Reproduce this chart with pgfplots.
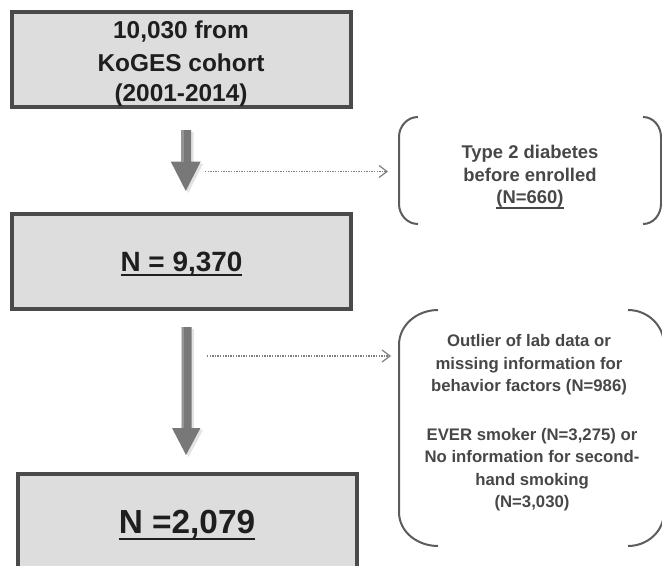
\documentclass[border=0pt]{standalone}
\usepackage{fontspec}
\setmainfont{Liberation Sans}
\usepackage{pgfplots}
\pgfplotsset{compat=1.18}
\usetikzlibrary{arrows.meta,shadows}
\definecolor{boxfill}{HTML}{DDDDDD}
\definecolor{boxline}{HTML}{4A4A4A}
\definecolor{arrowgray}{HTML}{787878}
\definecolor{arrowlight}{HTML}{959595}
\definecolor{dotgray}{HTML}{7E7E7E}
\definecolor{brk}{HTML}{5C5C5C}
\definecolor{brtext}{HTML}{474747}
\definecolor{maintext}{HTML}{1E1E1E}
\newcommand\ulx[3]{\setbox0=\hbox{#3}\rlap{\copy0}\rule[-#1]{\wd0}{#2}}
\begin{document}
\begin{tikzpicture}
\begin{axis}[scale only axis, width=662bp, height=566bp,
  xmin=0, xmax=662, ymin=0, ymax=566, y dir=reverse,
  axis lines=none, ticks=none, clip=false]
% boxes
\addplot[draw=boxline, fill=boxfill, line width=4bp] coordinates {(12,12) (350.5,12) (350.5,107.3) (12,107.3)} -- cycle;
\addplot[draw=boxline, fill=boxfill, line width=4bp] coordinates {(12,213.7) (350.5,213.7) (350.5,308.7) (12,308.7)} -- cycle;
\addplot[draw=boxline, fill=boxfill, line width=4bp] coordinates {(18,474.3) (357,474.3) (357,590) (18,590)} -- cycle;
% big arrows
\fill[arrowgray, drop shadow={shadow xshift=2.5bp, shadow yshift=-2bp, opacity=0.22}]
  (axis cs:181,130) -- (axis cs:191,130) -- (axis cs:191,161.5) -- (axis cs:200.7,161.5)
  -- (axis cs:185.8,191) -- (axis cs:170.7,161.5) -- (axis cs:181,161.5) -- cycle;
\fill[arrowlight] (axis cs:181,130) rectangle (axis cs:183.5,161.5);
\fill[arrowgray, drop shadow={shadow xshift=2.5bp, shadow yshift=-2bp, opacity=0.22}]
  (axis cs:181.5,327) -- (axis cs:191.5,327) -- (axis cs:191.5,428) -- (axis cs:200.5,428)
  -- (axis cs:186,455) -- (axis cs:172,428) -- (axis cs:181.5,428) -- cycle;
\fill[arrowlight] (axis cs:181.5,327) rectangle (axis cs:184,428);
% dotted arrows
\draw[dotgray, line width=1.5bp, dash pattern=on 1.4bp off 1.2bp, -{Straight Barb[length=8bp,width=12bp,line width=1.2bp]}]
  (axis cs:205,171.5) -- (axis cs:388,171.5);
\draw[dotgray, line width=1.5bp, dash pattern=on 1.4bp off 1.2bp, -{Straight Barb[length=8bp,width=12bp,line width=1.2bp]}]
  (axis cs:207,356) -- (axis cs:391,356);
% brackets
\draw[brk, line width=2bp] (axis cs:418,117) to[out=180,in=90] (axis cs:399,137) -- (axis cs:399,204) to[out=-90,in=180] (axis cs:418,224);
\draw[brk, line width=2bp] (axis cs:643,117) to[out=0,in=90] (axis cs:661,137) -- (axis cs:661,204) to[out=-90,in=0] (axis cs:643,224);
\draw[brk, line width=2bp] (axis cs:438,310) to[out=180,in=90] (axis cs:399,345) -- (axis cs:399,512) to[out=-90,in=180] (axis cs:438,546);
\draw[brk, line width=2bp] (axis cs:628,310) to[out=0,in=90] (axis cs:664,345) -- (axis cs:664,512) to[out=-90,in=0] (axis cs:628,546);
% main texts
\begin{scope}[every node/.style={anchor=base, inner sep=0pt, text=maintext}]
\node[font=\fontsize{24.5}{30}\selectfont\bfseries] at (axis cs:181,39) {10,030 from};
\node[font=\fontsize{24.5}{30}\selectfont\bfseries] at (axis cs:181,71.7) {KoGES cohort};
\node[font=\fontsize{24.5}{30}\selectfont\bfseries] at (axis cs:181,101.5) {(2001-2014)};
\node[font=\fontsize{28}{32}\selectfont\bfseries] at (axis cs:181.5,271.7) {\ulx{4bp}{1.6bp}{N = 9,370}};
\node[font=\fontsize{33.5}{38}\selectfont\bfseries] at (axis cs:187,533.3) {\ulx{6.7bp}{2bp}{N =2,079}};
\end{scope}
% bracket texts
\begin{scope}[every node/.style={anchor=base, inner sep=0pt, text=brtext}]
\node[font=\fontsize{18.5}{22}\selectfont\bfseries] at (axis cs:530,158.3) {Type 2 diabetes};
\node[font=\fontsize{18.5}{22}\selectfont\bfseries] at (axis cs:530,181) {before enrolled};
\node[font=\fontsize{18.5}{22}\selectfont\bfseries] at (axis cs:530,203.5) {\ulx{5bp}{1.3bp}{(N=660)}};
\node[font=\fontsize{16.8}{20}\selectfont\bfseries] at (axis cs:529,346.7) {Outlier of lab data or};
\node[font=\fontsize{16.8}{20}\selectfont\bfseries] at (axis cs:529,369) {missing information for};
\node[font=\fontsize{16.8}{20}\selectfont\bfseries] at (axis cs:529,391.7) {behavior factors (N=986)};
\node[font=\fontsize{16.8}{20}\selectfont\bfseries] at (axis cs:532,440) {EVER smoker (N=3,275) or};
\node[font=\fontsize{16.8}{20}\selectfont\bfseries] at (axis cs:532,462.5) {No information for second-};
\node[font=\fontsize{16.8}{20}\selectfont\bfseries] at (axis cs:532,485) {hand smoking};
\node[font=\fontsize{16.8}{20}\selectfont\bfseries] at (axis cs:532,507.5) {(N=3,030)};
\end{scope}
\end{axis}
\pgfresetboundingbox
\path (current axis.south west) rectangle (current axis.north east);
\end{tikzpicture}
\end{document}
